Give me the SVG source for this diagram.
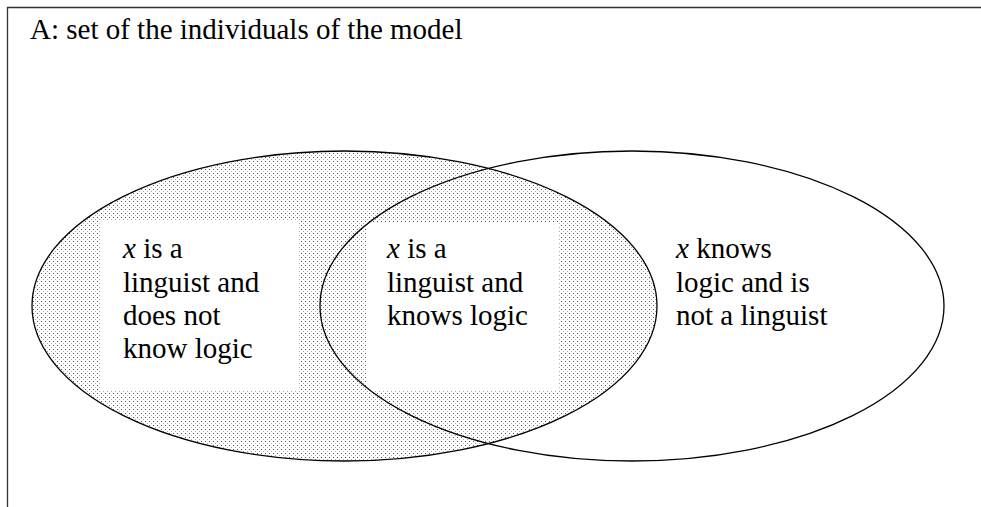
<svg xmlns="http://www.w3.org/2000/svg" width="981" height="507" viewBox="0 0 981 507">
  <defs>
    <pattern id="dots" x="0" y="0" width="4" height="4" patternUnits="userSpaceOnUse">
      <rect x="1" y="1" width="1" height="1" fill="#555"/>
      <rect x="3" y="3" width="1" height="1" fill="#aaa"/>
    </pattern>
    <style>
      .t { font-family: "Liberation Serif", "Times New Roman", serif; font-size: 29px; fill: #000; }
      .i { font-style: italic; }
      .ell { fill: none; stroke: #000; stroke-width: 1.3; }
      .box { fill: #fff; stroke: none; }
      .frame { fill: none; stroke: #333; stroke-width: 1.3; }
    </style>
  </defs>
  <rect width="981" height="507" fill="#fff"/>
  <g id="universe">
    <path class="frame" d="M7.5,507 V7.5 H981"/>
    <text class="t" x="30" y="39">A: set of the individuals of the model</text>
  </g>
  <g id="linguists">
    <ellipse cx="344.5" cy="306" rx="312.5" ry="155" fill="url(#dots)" stroke="none"/>
  </g>
  <g id="region-linguist-only">
    <rect class="box" x="100" y="220" width="198" height="170"/>
    <text class="t">
      <tspan x="123" y="258"><tspan class="i">x</tspan> is a</tspan>
      <tspan x="123" y="292">linguist and</tspan>
      <tspan x="123" y="325">does not</tspan>
      <tspan x="123" y="358">know logic</tspan>
    </text>
  </g>
  <g id="region-both">
    <rect class="box" x="367" y="222" width="192" height="168"/>
    <text class="t">
      <tspan x="387" y="258"><tspan class="i">x</tspan> is a</tspan>
      <tspan x="387" y="292">linguist and</tspan>
      <tspan x="387" y="325">knows logic</tspan>
    </text>
  </g>
  <g id="region-logic-only">
    <text class="t">
      <tspan x="676" y="258"><tspan class="i">x</tspan> knows</tspan>
      <tspan x="676" y="292">logic and is</tspan>
      <tspan x="676" y="325">not a linguist</tspan>
    </text>
  </g>
  <g id="outlines">
    <ellipse id="linguists-outline" class="ell" cx="344.5" cy="306" rx="312.5" ry="155"/>
    <ellipse id="logic-knowers" class="ell" cx="632" cy="306" rx="312" ry="155"/>
  </g>
</svg>
